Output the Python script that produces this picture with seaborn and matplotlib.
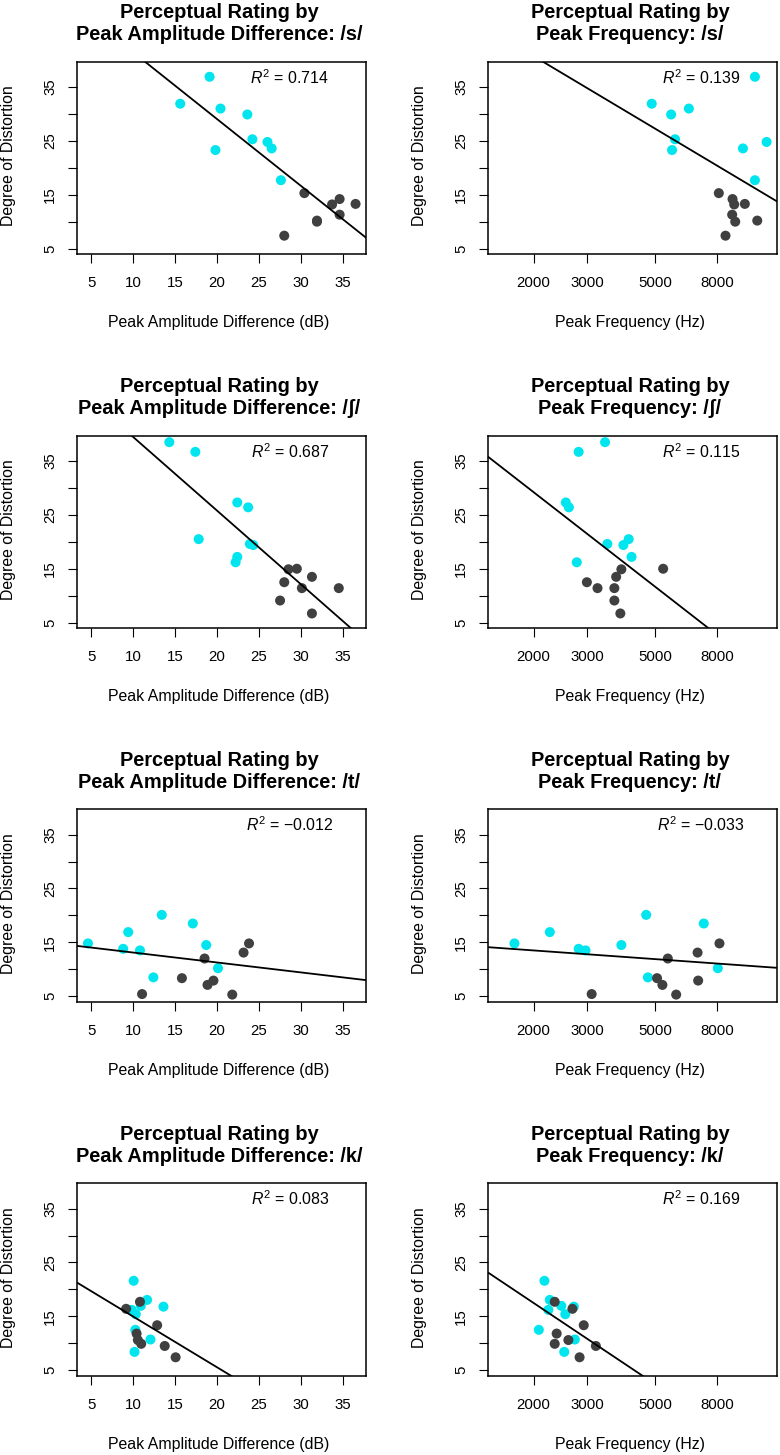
import numpy as np
import pandas as pd
import matplotlib
matplotlib.use('Agg')
import matplotlib.pyplot as plt
import seaborn as sns
from matplotlib.ticker import FixedLocator, NullLocator, FixedFormatter

# values (cyan group first, then dark group)
group = ['cyan'] * 9 + ['dark'] * 8

s_rating = [36.9, 31.9, 31.0, 29.9, 25.3, 24.8, 23.6, 23.3, 17.7,
            15.3, 14.2, 13.2, 13.3, 11.3, 10.0, 10.2, 7.4]
s_amp = [19.1, 15.6, 20.4, 23.6, 24.2, 26.0, 26.5, 19.8, 27.6,
         30.4, 34.6, 33.7, 36.5, 34.6, 31.9, 31.9, 28.0]
s_freq = [10640, 4880, 6460, 5650, 5820, 11620, 9720, 5690, 10640,
          8100, 8985, 9100, 9860, 8960, 9170, 10830, 8520]

sh_rating = [38.5, 36.7, 27.3, 26.4, 20.5, 19.6, 19.4, 17.2, 16.2,
             14.9, 15.0, 13.5, 12.5, 11.4, 11.4, 9.1, 6.7]
sh_amp = [14.3, 17.4, 22.4, 23.7, 17.8, 23.9, 24.3, 22.4, 22.2,
          28.5, 29.5, 31.3, 28.0, 30.1, 34.5, 27.5, 31.3]
sh_freq = [3430, 2810, 2550, 2610, 4100, 3490, 3940, 4190, 2770,
           3880, 5320, 3730, 2990, 3240, 3680, 3680, 3850]

t_rating = [14.8, 16.9, 13.8, 13.5, 20.1, 18.5, 14.5, 10.2, 8.5,
            5.4, 8.35, 12.0, 7.1, 7.9, 5.3, 13.1, 14.8]
t_amp = [4.6, 9.4, 8.8, 10.8, 13.4, 17.1, 18.7, 20.1, 12.4,
         11.05, 15.8, 18.5, 18.85, 19.56, 21.8, 23.15, 23.8]
t_freq = [1730, 2260, 2810, 2960, 4680, 7230, 3880, 8040, 4740,
          3100, 5080, 5510, 5290, 6930, 5870, 6900, 8140]

k_rating = [21.6, 18.05, 16.95, 16.8, 16.2, 15.4, 12.5, 10.7, 8.4,
            16.4, 17.7, 13.35, 11.8, 10.6, 9.9, 9.5, 7.4]
k_amp = [10.05, 11.65, 10.9, 13.6, 9.8, 10.3, 10.25, 12.05, 10.15,
         9.15, 10.8, 12.85, 10.4, 10.55, 10.95, 13.75, 15.05]
k_freq = [2170, 2260, 2465, 2710, 2235, 2540, 2080, 2730, 2520,
          2680, 2345, 2920, 2380, 2600, 2345, 3200, 2830]

sounds = ['s', 'ʃ', 't', 'k']
r2_amp = ['0.714', '0.687', '\u22120.012', '0.083']
r2_freq = ['0.139', '0.115', '\u22120.033', '0.169']

amp_ticks = [5, 10, 15, 20, 25, 30, 35]
freq_ticks = [2000, 3000, 5000, 8000]
y_ticks = [5, 10, 15, 20, 25, 30, 35]
y_ticklabels = ['5', '', '15', '', '25', '', '35']

palette = {'cyan': '#00E5EE', 'dark': '#404040'}

sns.set_style('ticks')
plt.rcParams['font.family'] = ['Liberation Sans', 'DejaVu Sans']
plt.rcParams['text.color'] = 'black'
plt.rcParams['axes.labelcolor'] = 'black'
plt.rcParams['mathtext.fontset'] = 'custom'
plt.rcParams['mathtext.it'] = 'Liberation Sans:italic'
plt.rcParams['mathtext.rm'] = 'Liberation Sans'

data = {
    's': (s_rating, s_amp, s_freq),
    'ʃ': (sh_rating, sh_amp, sh_freq),
    't': (t_rating, t_amp, t_freq),
    'k': (k_rating, k_amp, k_freq),
}

fig = plt.figure(figsize=(7.8, 14.55), dpi=100)
W, H = 780, 1455
lefts = [77.3, 488.3]
tops = [61.7, 435.7, 809.3, 1183.3]
bw, bh = 289, 192.3


def style_axis(ax, title, xlabel, r2):
    ax.set_ylim(4.0, 39.7)
    ax.yaxis.set_major_locator(FixedLocator(y_ticks))
    ax.yaxis.set_major_formatter(FixedFormatter(y_ticklabels))
    ax.tick_params(axis='both', direction='out', length=6.5, width=0.8,
                   color='black', labelsize=10.8, labelcolor='black')
    ax.tick_params(axis='x', pad=9.5)
    ax.tick_params(axis='y', pad=8.0, labelrotation=90)
    for lab in ax.get_yticklabels():
        lab.set_va('center')
    for sp in ax.spines.values():
        sp.set_visible(True)
        sp.set_color('black')
        sp.set_linewidth(1.1)
    ax.set_title(title, fontsize=14.4, fontweight='bold', linespacing=1.2,
                 pad=15.3, x=0.49, color='black')
    ax.set_xlabel(xlabel, fontsize=11.4)
    ax.xaxis.set_label_coords(0.49, -0.357)
    ax.xaxis.label.set_va('center')
    ax.set_ylabel('Degree of Distortion', fontsize=11.4)
    ax.yaxis.set_label_coords(-0.238, 0.51)
    ax.yaxis.label.set_va('center')
    ax.text(0.735, 0.918, r'$R^2$ = ' + r2, transform=ax.transAxes,
            ha='center', va='center', fontsize=11.4)


for i, snd in enumerate(sounds):
    rating, amp, freq = data[snd]
    df = pd.DataFrame({'rating': rating, 'amp': amp, 'freq': freq,
                       'group': group})
    bottom = 1 - (tops[i] + bh) / H

    # amplitude panel
    ax = fig.add_axes([lefts[0] / W, bottom, bw / W, bh / H])
    sns.scatterplot(data=df, x='amp', y='rating', hue='group', palette=palette,
                    s=52, edgecolor='none', legend=False, ax=ax, zorder=2)
    ax.set_xlim(3.33, 37.78)
    b, a = np.polyfit(df['amp'], df['rating'], 1)
    xx = np.linspace(3.33, 37.78, 50)
    ax.plot(xx, a + b * xx, color='black', lw=1.3, zorder=3)
    ax.xaxis.set_major_locator(FixedLocator(amp_ticks))
    style_axis(ax, f'Perceptual Rating by\nPeak Amplitude Difference: /{snd}/',
               'Peak Amplitude Difference (dB)', r2_amp[i])

    # frequency panel
    ax = fig.add_axes([lefts[1] / W, bottom, bw / W, bh / H])
    sns.scatterplot(data=df, x='freq', y='rating', hue='group', palette=palette,
                    s=52, edgecolor='none', legend=False, ax=ax, zorder=2)
    ax.set_xscale('log')
    ax.set_xlim(1420, 12600)
    b, a = np.polyfit(np.log10(df['freq']), df['rating'], 1)
    xx = np.geomspace(1420, 12600, 50)
    ax.plot(xx, a + b * np.log10(xx), color='black', lw=1.3, zorder=3)
    ax.xaxis.set_major_locator(FixedLocator(freq_ticks))
    ax.xaxis.set_major_formatter(FixedFormatter([str(t) for t in freq_ticks]))
    ax.xaxis.set_minor_locator(NullLocator())
    style_axis(ax, f'Perceptual Rating by\nPeak Frequency: /{snd}/',
               'Peak Frequency (Hz)', r2_freq[i])

fig.savefig('out.png', dpi=100)
plt.close(fig)
